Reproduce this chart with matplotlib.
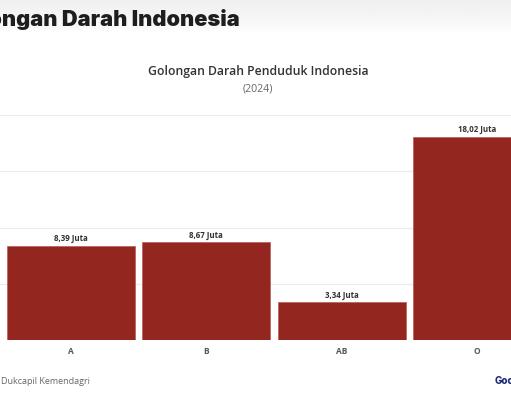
import numpy as np
import matplotlib
matplotlib.use("Agg")
import matplotlib.pyplot as plt

golongan = ["A", "B", "AB", "O"]
jumlah = [8.39, 8.67, 3.34, 18.02]  # juta jiwa
label_nilai = ["8,39 Juta", "8,67 Juta", "3,34 Juta", "18,02 Juta"]

merah = "#93261f"

fig = plt.figure(figsize=(5.11, 4.0), dpi=100)
fig.patch.set_facecolor("white")

# header band, light grey fading into white
bg = fig.add_axes([0, 0.92, 1, 0.08], zorder=-5)
grad = np.linspace(1.0, 0.0, 50).reshape(-1, 1) ** 0.6
bg.imshow(1 - grad * 0.06, cmap="gray", vmin=0, vmax=1, aspect="auto",
          extent=[0, 1, 0, 1], origin="upper")
bg.axis("off")

fig.text(-0.093, 0.952, "Golongan Darah Indonesia", fontsize=15.7,
         fontweight=900, family=["Inter", "DejaVu Sans"], color="#1e1e1e",
         va="center", ha="left")

fig.text(0.505, 0.82, "Golongan Darah Penduduk Indonesia", fontsize=8.8,
         fontweight="semibold", family=["Open Sans", "DejaVu Sans"],
         color="#333333", ha="center", va="center")
fig.text(0.505, 0.777, "(2024)", fontsize=7.6, family=["Open Sans", "DejaVu Sans"],
         color="#666666", ha="center", va="center")

ax = fig.add_axes([0.0, 0.15, 1.072, 0.5625])
x = np.arange(len(golongan))
bars = ax.bar(x, jumlah, width=0.946, color=merah, edgecolor="#b85a55",
              linewidth=0.5, zorder=3)
for b, lab in zip(bars, label_nilai):
    ax.text(b.get_x() + b.get_width() / 2, b.get_height() + 0.25, lab,
            ha="center", va="bottom", fontsize=5.7, fontweight="bold",
            family=["Open Sans", "DejaVu Sans"], color="#333333")

ax.set_xlim(-0.525, 3.525)
ax.set_ylim(0, 20)
ax.set_yticks([0, 5, 10, 15, 20])
ax.yaxis.grid(True, color="#ebebeb", linewidth=0.8, zorder=0)
ax.set_yticklabels([])
ax.tick_params(axis="y", length=0)
ax.set_xticks(x)
ax.set_xticklabels(golongan, fontsize=6, fontweight="bold",
                   family=["Open Sans", "DejaVu Sans"], color="#555555")
ax.tick_params(axis="x", length=0, pad=5)
for s in ax.spines.values():
    s.set_visible(False)

fig.text(0.002, 0.047, "Dukcapil Kemendagri", fontsize=6.5,
         family=["Open Sans", "DejaVu Sans"], color="#666666",
         ha="left", va="center")
fig.text(0.968, 0.047, "GoodStats", fontsize=7, fontweight="heavy",
         family=["Inter", "DejaVu Sans"], color="#1f2a78",
         ha="left", va="center")

fig.savefig("out.png", dpi=100)
